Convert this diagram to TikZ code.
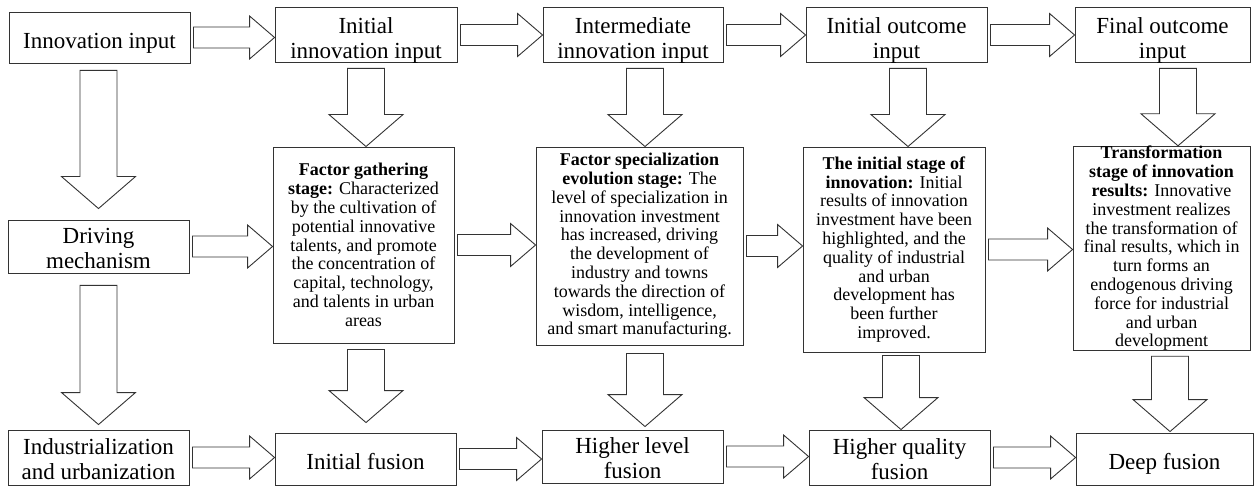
\documentclass[tikz,border=0pt]{standalone}
\usepackage{fontspec}
\setmainfont{Liberation Serif}
\usetikzlibrary{calc}
\tikzset{
  box/.style={draw=black!80, line width=0.9pt, inner sep=0pt, align=center,
    font=\fontsize{23}{25}\selectfont},
  stagebox/.style={draw=black!80, line width=0.9pt, inner sep=0pt, align=center,
    font=\fontsize{18}{18.8}\selectfont},
  blk/.style={draw=black!80, line width=0.9pt, fill=white, line join=miter}
}
\newcommand{\tup}{\rule{0pt}{26pt}}
\newcommand{\tlow}{\rule{0pt}{19pt}}
\newcommand{\harrow}[2]{%
  \draw[blk] let \p1=(#1.east), \p2=(#2.west) in
    (\x1+3pt,\y1+10.5pt) -- (\x2-25pt,\y1+10.5pt) -- (\x2-25pt,\y1+21.5pt)
    -- (\x2,\y1) -- (\x2-25pt,\y1-21.5pt) -- (\x2-25pt,\y1-10.5pt)
    -- (\x1+3pt,\y1-10.5pt) -- cycle;}
% #1 from, #2 to, #3 x offset, #4 start gap, #5 end gap
\newcommand{\varrow}[5]{%
  \draw[blk] let \p1=(#1.south), \p2=($(#2.north)+(#3,0)$) in
    (\x2-18.5pt,\y1-#4pt) -- (\x2+18.5pt,\y1-#4pt) -- (\x2+18.5pt,\y2+#5pt+32pt)
    -- (\x2+37pt,\y2+#5pt+32pt) -- (\x2,\y2+#5pt) -- (\x2-37pt,\y2+#5pt+32pt)
    -- (\x2-18.5pt,\y2+#5pt+32pt) -- cycle;}
\begin{document}
\begin{tikzpicture}[x=1pt,y=-1pt]
\useasboundingbox (0,0) rectangle (1255,486);
% top row
\node[box, minimum width=181pt, minimum height=51pt] (in0) at (99.5,37.5) {\tup Innovation input};
\node[box, minimum width=182pt, minimum height=54pt] (in1) at (366,35) {\tup Initial\\innovation input};
\node[box, minimum width=180pt, minimum height=54pt] (in2) at (633,35) {\tup Intermediate\\innovation input};
\node[box, minimum width=181pt, minimum height=54pt] (in3) at (896.5,35) {\tup Initial outcome\\input};
\node[box, minimum width=175pt, minimum height=54pt] (in4) at (1162.5,35) {\tup Final outcome\\input};
% middle row
\node[box, minimum width=181pt, minimum height=53pt] (dm) at (98.5,246.5) {\tlow Driving\\mechanism};
\node[stagebox, minimum width=181pt, minimum height=196pt] (s1) at (363.5,245) {%
\textbf{Factor gathering}\\
\textbf{stage:} Characterized\\
by the cultivation of\\
potential innovative\\
talents, and promote\\
the concentration of\\
capital, technology,\\
and talents in urban\\
areas};
\node[stagebox, minimum width=207pt, minimum height=198pt] (s2) at (639.5,246) {%
\textbf{Factor specialization}\\
\textbf{evolution stage:} The\\
level of specialization in\\
innovation investment\\
has increased, driving\\
the development of\\
industry and towns\\
towards the direction of\\
wisdom, intelligence,\\
and smart manufacturing.};
\node[stagebox, minimum width=182pt, minimum height=205pt] (s3) at (894,249.5) {%
\textbf{The initial stage of}\\
\textbf{innovation:} Initial\\
results of innovation\\
investment have been\\
highlighted, and the\\
quality of industrial\\
and urban\\
development has\\
been further\\
improved.};
\node[stagebox, minimum width=177pt, minimum height=203pt] (s4) at (1161.5,248.5) {%
\textbf{Transformation}\\
\textbf{stage of innovation}\\
\textbf{results:} Innovative\\
investment realizes\\
the transformation of\\
final results, which in\\
turn forms an\\
endogenous driving\\
force for industrial\\
and urban\\
development};
% bottom row
\node[box, minimum width=181pt, minimum height=55pt] (iu) at (98.5,457.5) {\tlow Industrialization\\and urbanization};
\node[box, minimum width=181pt, minimum height=52pt] (f1) at (365.5,459) {\rule{0pt}{21pt}Initial fusion};
\node[box, minimum width=181pt, minimum height=53pt] (f2) at (632.5,456.5) {\tlow Higher level\\fusion};
\node[box, minimum width=181pt, minimum height=55pt] (f3) at (899.5,457.5) {\tlow Higher quality\\fusion};
\node[box, minimum width=177pt, minimum height=52pt] (f4) at (1164.5,459) {\tup Deep fusion};
% horizontal arrows
\harrow{in0}{in1}
\harrow{in1}{in2}
\harrow{in2}{in3}
\harrow{in3}{in4}
\harrow{dm}{s1}
\harrow{s1}{s2}
\harrow{s2}{s3}
\harrow{s3}{s4}
\harrow{iu}{f1}
\harrow{f1}{f2}
\harrow{f2}{f3}
\harrow{f3}{f4}
% vertical arrows
\varrow{in1}{s1}{2.5}{5}{0}
\varrow{in2}{s2}{5.5}{5}{0}
\varrow{in3}{s3}{14}{5}{0}
\varrow{in4}{s4}{16.5}{5}{0}
\varrow{in0}{dm}{0}{7}{11}
\varrow{dm}{iu}{0}{12}{5}
\varrow{s1}{f1}{0.5}{6}{10}
\varrow{s2}{f2}{12.5}{8}{3}
\varrow{s3}{f3}{1.5}{3}{0}
\varrow{s4}{f4}{5.5}{5}{1}
\end{tikzpicture}
\end{document}
